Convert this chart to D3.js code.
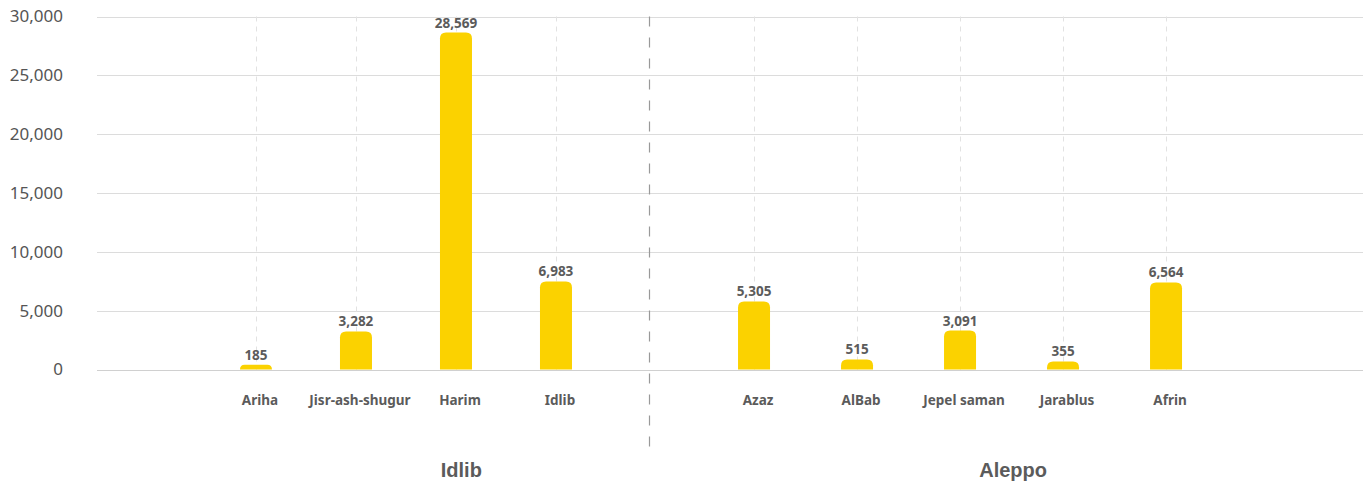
<!DOCTYPE html>
<html>
<head>
<meta charset="utf-8">
<script src="https://cdn.jsdelivr.net/npm/d3@7"></script>
<style>
  html, body { margin: 0; padding: 0; background: #fff; }
  svg { display: block; }
</style>
</head>
<body>
<svg id="chart" width="1363" height="482"></svg>
<script>
// ---- data ----
const groups = ["Idlib", "Aleppo"];
const idlibCategories = ["Ariha", "Jisr-ash-shugur", "Harim", "Idlib"];
const aleppoCategories = ["Azaz", "AlBab", "Jepel saman", "Jarablus", "Afrin"];
// bar heights as drawn in the picture
const idlibBars = [400, 3230, 28640, 7480];
const aleppoBars = [5780, 850, 3310, 680, 7400];
// value labels printed above the bars
const idlibLabels = [185, 3282, 28569, 6983];
const aleppoLabels = [5305, 515, 3091, 355, 6564];
const yTicks = [0, 5000, 10000, 15000, 20000, 25000, 30000];

// ---- layout ----
const plotLeft = 97, plotRight = 1363, plotTop = 16.5, zeroY = 369.5, divX = 649;
const svg = d3.select("#chart");
const uiFont = "'Noto Sans', 'Open Sans', sans-serif";

const y = d3.scaleLinear().domain([0, 30000]).range([zeroY, plotTop]);

const groupDefs = [
  { name: groups[0], cats: idlibCategories, bars: idlibBars, labels: idlibLabels,
    range: [plotLeft, divX], pad: 0.76, align: 0.717, labelFrac: 0.66 },
  { name: groups[1], cats: aleppoCategories, bars: aleppoBars, labels: aleppoLabels,
    range: [divX, plotRight], pad: 0.966, align: 0.269, labelFrac: 0.51 }
];
groupDefs.forEach(g => {
  g.x = d3.scaleBand().domain(g.cats).range(g.range)
    .paddingInner(0).paddingOuter(g.pad).align(g.align);
});

const fmt = d3.format(",");
const textColor = "#5b5b5b";

// horizontal gridlines + y axis labels
const yAxis = d3.axisLeft(y).tickValues(yTicks).tickFormat(fmt).tickSize(0).tickPadding(0);
const yg = svg.append("g").attr("transform", `translate(63,0)`).call(yAxis);
yg.select(".domain").remove();
yg.selectAll("text")
  .attr("fill", "#555")
  .style("font-family", uiFont)
  .style("font-size", "17px");

svg.append("g").selectAll("line").data(yTicks).join("line")
  .attr("x1", plotLeft).attr("x2", plotRight)
  .attr("y1", d => Math.round(y(d)) + 0.5).attr("y2", d => Math.round(y(d)) + 0.5)
  .attr("stroke", d => d === 0 ? "#d0d0d0" : "#dcdcdc").attr("stroke-width", 1);

const barW = 32, r = 6;
function barPath(cx, yTop, yBot) {
  const x0 = cx - barW / 2, x1 = cx + barW / 2;
  const rr = Math.min(r, (yBot - yTop));
  return `M${x0},${yBot} L${x0},${yTop + rr} Q${x0},${yTop} ${x0 + rr},${yTop} L${x1 - rr},${yTop} Q${x1},${yTop} ${x1},${yTop + rr} L${x1},${yBot} Z`;
}

groupDefs.forEach(g => {
  const cx = c => g.x(c) + g.x.bandwidth() / 2;
  // vertical dashed category gridlines
  svg.append("g").selectAll("line").data(g.cats).join("line")
    .attr("x1", d => Math.round(cx(d)) + 0.5).attr("x2", d => Math.round(cx(d)) + 0.5)
    .attr("y1", plotTop).attr("y2", zeroY)
    .attr("stroke", "#e2e2e2").attr("stroke-width", 1)
    .attr("stroke-dasharray", "5,5");

  const data = g.cats.map((c, i) => ({ c, v: g.bars[i], l: g.labels[i] }));
  svg.append("g").selectAll("path").data(data).join("path")
    .attr("d", d => barPath(cx(d.c), y(d.v), zeroY))
    .attr("fill", "#fbd200");

  svg.append("g").selectAll("text").data(data).join("text")
    .attr("x", d => cx(d.c)).attr("y", d => y(d.v) - 5)
    .attr("text-anchor", "middle")
    .attr("fill", textColor)
    .style("font-family", uiFont)
    .style("font-weight", "bold").style("font-size", "13.5px")
    .text(d => fmt(d.l));

  // category labels
  const xAxis = d3.axisBottom(g.x).tickSize(0).tickPadding(0);
  const xg = svg.append("g").attr("transform", `translate(4,${zeroY + 26})`).call(xAxis);
  xg.select(".domain").remove();
  xg.selectAll("text")
    .attr("fill", textColor)
    .style("font-family", uiFont)
    .style("font-weight", "bold").style("font-size", "13.5px");

  // group label
  svg.append("text")
    .attr("x", g.range[0] + (g.range[1] - g.range[0]) * g.labelFrac)
    .attr("y", 477)
    .attr("text-anchor", "middle")
    .attr("fill", textColor)
    .style("font-family", "'Liberation Sans', Arial, sans-serif")
    .style("font-weight", "bold").style("font-size", "20px")
    .text(g.name);
});

// group divider
svg.append("line")
  .attr("x1", divX + 0.5).attr("x2", divX + 0.5)
  .attr("y1", plotTop).attr("y2", 456)
  .attr("stroke", "#999").attr("stroke-width", 1.2)
  .attr("stroke-dasharray", "10,11");
</script>
</body>
</html>
